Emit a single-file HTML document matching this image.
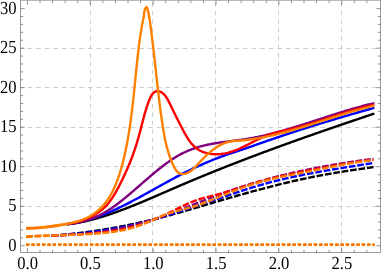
<!DOCTYPE html>
<html><head><meta charset="utf-8"><title>plot</title>
<style>
html,body{margin:0;padding:0;background:#fff;}
body{width:382px;height:274px;overflow:hidden;position:relative;font-family:"Liberation Serif",serif;}
svg text{font-family:"Liberation Serif",serif;fill:#000;text-rendering:geometricPrecision;}
</style></head><body>
<svg width="382" height="274" viewBox="0 0 382 274" style="position:absolute;left:0;top:0;will-change:transform">
<rect x="0" y="0" width="382" height="274" fill="#ffffff"/>
<path d="M90.50,0.5 V252.5 M152.50,0.5 V252.5 M215.50,0.5 V252.5 M278.50,0.5 V252.5 M341.50,0.5 V252.5" stroke="#b8b8b8" stroke-width="0.7" stroke-dasharray="4.4 4.05" stroke-dashoffset="6.5" fill="none"/>
<path d="M20.5,206.50 H380.5 M20.5,166.50 H380.5 M20.5,127.50 H380.5 M20.5,87.50 H380.5 M20.5,48.50 H380.5" stroke="#b8b8b8" stroke-width="0.7" stroke-dasharray="4.5 4.114" stroke-dashoffset="1.5" fill="none"/>
<path d="M66.92,224.40 L67.89,224.27 L68.86,224.15 L69.83,224.03 L70.80,223.90 L71.77,223.78 L72.74,223.64 L73.71,223.51 L74.68,223.37 L75.65,223.22 L76.62,223.07 L77.59,222.91 L78.56,222.74 L79.53,222.56 L80.50,222.36 L81.47,222.16 L82.44,221.95 L83.41,221.74 L84.38,221.52 L85.35,221.30 L86.32,221.07 L87.29,220.84 L88.26,220.61 L89.23,220.37 L90.20,220.12 L91.17,219.87 L92.14,219.62 L93.11,219.36 L94.07,219.10 L95.04,218.83 L96.01,218.56 L96.98,218.28 L97.95,218.01 L98.92,217.72 L99.89,217.43 L100.86,217.14 L101.83,216.85 L102.80,216.55 L103.77,216.25 L104.74,215.94 L105.71,215.63 L106.68,215.32 L107.65,215.00 L108.62,214.68 L109.59,214.36 L110.56,214.03 L111.53,213.70 L112.50,213.37 L113.47,213.03 L114.44,212.69 L115.41,212.35 L116.38,212.00 L117.35,211.65 L118.32,211.30 L119.29,210.95 L120.25,210.59 L121.22,210.23 L122.19,209.87 L123.16,209.50 L124.13,209.13 L125.10,208.76 L126.07,208.39 L127.04,208.02 L128.01,207.64 L128.98,207.26 L129.95,206.88 L130.92,206.49 L131.89,206.11 L132.86,205.72 L133.83,205.33 L134.80,204.94 L135.77,204.55 L136.74,204.15 L137.71,203.75 L138.68,203.35 L139.65,202.95 L140.62,202.55 L141.59,202.15 L142.56,201.74 L143.53,201.34 L144.50,200.93 L145.47,200.52 L146.44,200.11 L147.40,199.70 L148.37,199.29 L149.34,198.88 L150.31,198.46 L151.28,198.05 L152.25,197.63 L153.22,197.21 L154.19,196.80 L155.16,196.38 L156.13,195.96 L157.10,195.54 L158.07,195.12 L159.04,194.70 L160.01,194.28 L160.98,193.86 L161.95,193.44 L162.92,193.02 L163.89,192.59 L164.86,192.17 L165.83,191.75 L166.80,191.33 L167.77,190.91 L168.74,190.49 L169.71,190.06 L170.68,189.64 L171.65,189.22 L172.62,188.80 L173.58,188.38 L174.55,187.96 L175.52,187.54 L176.49,187.12 L177.46,186.71 L178.43,186.29 L179.40,185.87 L180.37,185.46 L181.34,185.04 L182.31,184.63 L183.28,184.21 L184.25,183.80 L185.22,183.39 L186.19,182.98 L187.16,182.57 L188.13,182.16 L189.10,181.75 L190.07,181.34 L191.04,180.93 L192.01,180.52 L192.98,180.12 L193.95,179.71 L194.92,179.31 L195.89,178.91 L196.86,178.50 L197.83,178.10 L198.80,177.70 L199.77,177.30 L200.73,176.90 L201.70,176.50 L202.67,176.10 L203.64,175.70 L204.61,175.30 L205.58,174.90 L206.55,174.51 L207.52,174.11 L208.49,173.72 L209.46,173.32 L210.43,172.93 L211.40,172.54 L212.37,172.15 L213.34,171.75 L214.31,171.36 L215.28,170.97 L216.25,170.58 L217.22,170.20 L218.19,169.81 L219.16,169.42 L220.13,169.03 L221.10,168.65 L222.07,168.26 L223.04,167.88 L224.01,167.49 L224.98,167.11 L225.95,166.72 L226.92,166.34 L227.88,165.96 L228.85,165.58 L229.82,165.20 L230.79,164.82 L231.76,164.44 L232.73,164.06 L233.70,163.68 L234.67,163.30 L235.64,162.93 L236.61,162.55 L237.58,162.18 L238.55,161.80 L239.52,161.43 L240.49,161.05 L241.46,160.68 L242.43,160.30 L243.40,159.93 L244.37,159.56 L245.34,159.19 L246.31,158.82 L247.28,158.45 L248.25,158.08 L249.22,157.71 L250.19,157.34 L251.16,156.97 L252.13,156.61 L253.10,156.24 L254.06,155.87 L255.03,155.51 L256.00,155.14 L256.97,154.78 L257.94,154.41 L258.91,154.05 L259.88,153.69 L260.85,153.32 L261.82,152.96 L262.79,152.60 L263.76,152.24 L264.73,151.88 L265.70,151.52 L266.67,151.16 L267.64,150.80 L268.61,150.44 L269.58,150.08 L270.55,149.72 L271.52,149.37 L272.49,149.01 L273.46,148.65 L274.43,148.30 L275.40,147.94 L276.37,147.59 L277.34,147.23 L278.31,146.88 L279.28,146.53 L280.25,146.17 L281.21,145.82 L282.18,145.47 L283.15,145.12 L284.12,144.77 L285.09,144.41 L286.06,144.06 L287.03,143.71 L288.00,143.36 L288.97,143.02 L289.94,142.67 L290.91,142.32 L291.88,141.97 L292.85,141.62 L293.82,141.28 L294.79,140.93 L295.76,140.58 L296.73,140.24 L297.70,139.89 L298.67,139.55 L299.64,139.20 L300.61,138.86 L301.58,138.51 L302.55,138.17 L303.52,137.83 L304.49,137.48 L305.46,137.14 L306.43,136.80 L307.39,136.46 L308.36,136.12 L309.33,135.78 L310.30,135.44 L311.27,135.10 L312.24,134.76 L313.21,134.42 L314.18,134.08 L315.15,133.74 L316.12,133.40 L317.09,133.06 L318.06,132.72 L319.03,132.39 L320.00,132.05 L320.97,131.71 L321.94,131.37 L322.91,131.04 L323.88,130.70 L324.85,130.37 L325.82,130.03 L326.79,129.70 L327.76,129.36 L328.73,129.03 L329.70,128.69 L330.67,128.36 L331.64,128.03 L332.61,127.69 L333.58,127.36 L334.54,127.03 L335.51,126.69 L336.48,126.36 L337.45,126.03 L338.42,125.70 L339.39,125.37 L340.36,125.04 L341.33,124.70 L342.30,124.37 L343.27,124.04 L344.24,123.71 L345.21,123.38 L346.18,123.05 L347.15,122.72 L348.12,122.40 L349.09,122.07 L350.06,121.74 L351.03,121.41 L352.00,121.08 L352.97,120.75 L353.94,120.42 L354.91,120.10 L355.88,119.77 L356.85,119.44 L357.82,119.12 L358.79,118.79 L359.76,118.46 L360.73,118.14 L361.69,117.81 L362.66,117.48 L363.63,117.16 L364.60,116.83 L365.57,116.51 L366.54,116.18 L367.51,115.86 L368.48,115.53 L369.45,115.21 L370.42,114.88 L371.39,114.56 L372.36,114.23 L373.33,113.91 L374.30,113.58" stroke="#000000" stroke-width="2.4" fill="none" stroke-linejoin="round"/>
<path d="M66.92,224.20 L67.89,224.05 L68.86,223.91 L69.83,223.76 L70.80,223.62 L71.77,223.46 L72.74,223.31 L73.71,223.15 L74.68,222.98 L75.65,222.81 L76.62,222.64 L77.59,222.45 L78.56,222.26 L79.53,222.05 L80.50,221.83 L81.47,221.61 L82.44,221.38 L83.41,221.14 L84.38,220.90 L85.35,220.64 L86.32,220.38 L87.29,220.12 L88.26,219.84 L89.23,219.56 L90.20,219.27 L91.17,218.98 L92.14,218.67 L93.11,218.36 L94.07,218.04 L95.04,217.72 L96.01,217.39 L96.98,217.05 L97.95,216.70 L98.92,216.35 L99.89,215.99 L100.86,215.63 L101.83,215.26 L102.80,214.88 L103.77,214.50 L104.74,214.11 L105.71,213.72 L106.68,213.32 L107.65,212.91 L108.62,212.50 L109.59,212.09 L110.56,211.66 L111.53,211.24 L112.50,210.81 L113.47,210.37 L114.44,209.93 L115.41,209.49 L116.38,209.04 L117.35,208.58 L118.32,208.12 L119.29,207.66 L120.25,207.19 L121.22,206.72 L122.19,206.25 L123.16,205.77 L124.13,205.29 L125.10,204.80 L126.07,204.31 L127.04,203.82 L128.01,203.32 L128.98,202.83 L129.95,202.32 L130.92,201.82 L131.89,201.31 L132.86,200.80 L133.83,200.29 L134.80,199.78 L135.77,199.26 L136.74,198.74 L137.71,198.22 L138.68,197.69 L139.65,197.17 L140.62,196.64 L141.59,196.11 L142.56,195.58 L143.53,195.05 L144.50,194.52 L145.47,193.99 L146.44,193.45 L147.40,192.91 L148.37,192.38 L149.34,191.84 L150.31,191.30 L151.28,190.76 L152.25,190.22 L153.22,189.68 L154.19,189.14 L155.16,188.60 L156.13,188.06 L157.10,187.52 L158.07,186.98 L159.04,186.44 L160.01,185.91 L160.98,185.37 L161.95,184.83 L162.92,184.29 L163.89,183.76 L164.86,183.22 L165.83,182.69 L166.80,182.15 L167.77,181.62 L168.74,181.09 L169.71,180.57 L170.68,180.04 L171.65,179.51 L172.62,178.99 L173.58,178.47 L174.55,177.95 L175.52,177.43 L176.49,176.92 L177.46,176.41 L178.43,175.90 L179.40,175.39 L180.37,174.89 L181.34,174.39 L182.31,173.89 L183.28,173.39 L184.25,172.90 L185.22,172.41 L186.19,171.93 L187.16,171.45 L188.13,170.97 L189.10,170.49 L190.07,170.02 L191.04,169.55 L192.01,169.09 L192.98,168.63 L193.95,168.17 L194.92,167.71 L195.89,167.26 L196.86,166.81 L197.83,166.37 L198.80,165.93 L199.77,165.49 L200.73,165.05 L201.70,164.62 L202.67,164.19 L203.64,163.77 L204.61,163.35 L205.58,162.93 L206.55,162.52 L207.52,162.11 L208.49,161.70 L209.46,161.29 L210.43,160.89 L211.40,160.50 L212.37,160.10 L213.34,159.71 L214.31,159.33 L215.28,158.95 L216.25,158.57 L217.22,158.19 L218.19,157.82 L219.16,157.45 L220.13,157.09 L221.10,156.73 L222.07,156.37 L223.04,156.02 L224.01,155.67 L224.98,155.32 L225.95,154.98 L226.92,154.65 L227.88,154.31 L228.85,153.98 L229.82,153.66 L230.79,153.33 L231.76,153.01 L232.73,152.69 L233.70,152.37 L234.67,152.06 L235.64,151.74 L236.61,151.43 L237.58,151.11 L238.55,150.80 L239.52,150.48 L240.49,150.16 L241.46,149.85 L242.43,149.53 L243.40,149.21 L244.37,148.89 L245.34,148.56 L246.31,148.23 L247.28,147.90 L248.25,147.57 L249.22,147.23 L250.19,146.90 L251.16,146.56 L252.13,146.21 L253.10,145.87 L254.06,145.53 L255.03,145.18 L256.00,144.84 L256.97,144.49 L257.94,144.15 L258.91,143.80 L259.88,143.46 L260.85,143.12 L261.82,142.78 L262.79,142.44 L263.76,142.10 L264.73,141.76 L265.70,141.42 L266.67,141.08 L267.64,140.74 L268.61,140.41 L269.58,140.07 L270.55,139.74 L271.52,139.40 L272.49,139.07 L273.46,138.74 L274.43,138.41 L275.40,138.08 L276.37,137.75 L277.34,137.42 L278.31,137.09 L279.28,136.77 L280.25,136.44 L281.21,136.11 L282.18,135.79 L283.15,135.46 L284.12,135.14 L285.09,134.82 L286.06,134.50 L287.03,134.18 L288.00,133.86 L288.97,133.54 L289.94,133.22 L290.91,132.90 L291.88,132.58 L292.85,132.26 L293.82,131.95 L294.79,131.63 L295.76,131.32 L296.73,131.00 L297.70,130.69 L298.67,130.38 L299.64,130.07 L300.61,129.76 L301.58,129.45 L302.55,129.14 L303.52,128.83 L304.49,128.52 L305.46,128.21 L306.43,127.90 L307.39,127.60 L308.36,127.29 L309.33,126.99 L310.30,126.68 L311.27,126.38 L312.24,126.08 L313.21,125.77 L314.18,125.47 L315.15,125.17 L316.12,124.87 L317.09,124.57 L318.06,124.27 L319.03,123.97 L320.00,123.68 L320.97,123.38 L321.94,123.08 L322.91,122.79 L323.88,122.49 L324.85,122.20 L325.82,121.90 L326.79,121.61 L327.76,121.31 L328.73,121.02 L329.70,120.73 L330.67,120.44 L331.64,120.15 L332.61,119.86 L333.58,119.57 L334.54,119.28 L335.51,118.99 L336.48,118.70 L337.45,118.42 L338.42,118.13 L339.39,117.84 L340.36,117.56 L341.33,117.27 L342.30,116.99 L343.27,116.70 L344.24,116.42 L345.21,116.14 L346.18,115.85 L347.15,115.57 L348.12,115.29 L349.09,115.01 L350.06,114.73 L351.03,114.45 L352.00,114.17 L352.97,113.89 L353.94,113.61 L354.91,113.33 L355.88,113.06 L356.85,112.78 L357.82,112.50 L358.79,112.23 L359.76,111.95 L360.73,111.68 L361.69,111.40 L362.66,111.13 L363.63,110.85 L364.60,110.58 L365.57,110.31 L366.54,110.03 L367.51,109.76 L368.48,109.49 L369.45,109.22 L370.42,108.95 L371.39,108.68 L372.36,108.41 L373.33,108.14 L374.30,107.87" stroke="#0000ff" stroke-width="2.4" fill="none" stroke-linejoin="round"/>
<path d="M66.92,224.19 L67.89,224.06 L68.86,223.93 L69.83,223.80 L70.80,223.67 L71.77,223.53 L72.74,223.39 L73.71,223.24 L74.68,223.09 L75.65,222.93 L76.62,222.76 L77.59,222.58 L78.56,222.39 L79.53,222.18 L80.50,221.96 L81.47,221.73 L82.44,221.49 L83.41,221.24 L84.38,220.98 L85.35,220.70 L86.32,220.42 L87.29,220.12 L88.26,219.82 L89.23,219.50 L90.20,219.17 L91.17,218.82 L92.14,218.46 L93.11,218.09 L94.07,217.70 L95.04,217.30 L96.01,216.89 L96.98,216.46 L97.95,216.01 L98.92,215.55 L99.89,215.07 L100.86,214.58 L101.83,214.07 L102.80,213.54 L103.77,213.00 L104.74,212.44 L105.71,211.87 L106.68,211.28 L107.65,210.68 L108.62,210.07 L109.59,209.44 L110.56,208.80 L111.53,208.14 L112.50,207.48 L113.47,206.80 L114.44,206.11 L115.41,205.41 L116.38,204.70 L117.35,203.98 L118.32,203.24 L119.29,202.50 L120.25,201.76 L121.22,201.00 L122.19,200.23 L123.16,199.46 L124.13,198.68 L125.10,197.89 L126.07,197.09 L127.04,196.29 L128.01,195.49 L128.98,194.67 L129.95,193.86 L130.92,193.04 L131.89,192.21 L132.86,191.38 L133.83,190.55 L134.80,189.71 L135.77,188.87 L136.74,188.03 L137.71,187.19 L138.68,186.35 L139.65,185.50 L140.62,184.66 L141.59,183.81 L142.56,182.96 L143.53,182.12 L144.50,181.28 L145.47,180.43 L146.44,179.59 L147.40,178.75 L148.37,177.92 L149.34,177.09 L150.31,176.26 L151.28,175.43 L152.25,174.61 L153.22,173.79 L154.19,172.98 L155.16,172.18 L156.13,171.37 L157.10,170.58 L158.07,169.79 L159.04,169.01 L160.01,168.24 L160.98,167.47 L161.95,166.72 L162.92,165.97 L163.89,165.23 L164.86,164.50 L165.83,163.78 L166.80,163.07 L167.77,162.37 L168.74,161.68 L169.71,161.00 L170.68,160.33 L171.65,159.68 L172.62,159.04 L173.58,158.41 L174.55,157.80 L175.52,157.20 L176.49,156.61 L177.46,156.04 L178.43,155.48 L179.40,154.94 L180.37,154.41 L181.34,153.90 L182.31,153.41 L183.28,152.92 L184.25,152.46 L185.22,152.00 L186.19,151.56 L187.16,151.13 L188.13,150.72 L189.10,150.32 L190.07,149.93 L191.04,149.56 L192.01,149.19 L192.98,148.84 L193.95,148.50 L194.92,148.17 L195.89,147.85 L196.86,147.54 L197.83,147.24 L198.80,146.95 L199.77,146.67 L200.73,146.40 L201.70,146.14 L202.67,145.89 L203.64,145.65 L204.61,145.41 L205.58,145.18 L206.55,144.97 L207.52,144.75 L208.49,144.55 L209.46,144.35 L210.43,144.16 L211.40,143.97 L212.37,143.79 L213.34,143.62 L214.31,143.45 L215.28,143.29 L216.25,143.13 L217.22,142.97 L218.19,142.82 L219.16,142.68 L220.13,142.53 L221.10,142.40 L222.07,142.26 L223.04,142.13 L224.01,142.00 L224.98,141.87 L225.95,141.74 L226.92,141.62 L227.88,141.49 L228.85,141.37 L229.82,141.25 L230.79,141.13 L231.76,141.01 L232.73,140.88 L233.70,140.76 L234.67,140.64 L235.64,140.52 L236.61,140.39 L237.58,140.27 L238.55,140.14 L239.52,140.01 L240.49,139.88 L241.46,139.75 L242.43,139.61 L243.40,139.47 L244.37,139.32 L245.34,139.18 L246.31,139.02 L247.28,138.87 L248.25,138.71 L249.22,138.54 L250.19,138.37 L251.16,138.20 L252.13,138.02 L253.10,137.84 L254.06,137.66 L255.03,137.47 L256.00,137.28 L256.97,137.08 L257.94,136.88 L258.91,136.68 L259.88,136.47 L260.85,136.26 L261.82,136.05 L262.79,135.83 L263.76,135.61 L264.73,135.38 L265.70,135.15 L266.67,134.92 L267.64,134.69 L268.61,134.45 L269.58,134.21 L270.55,133.97 L271.52,133.72 L272.49,133.48 L273.46,133.22 L274.43,132.97 L275.40,132.71 L276.37,132.45 L277.34,132.19 L278.31,131.93 L279.28,131.66 L280.25,131.39 L281.21,131.12 L282.18,130.85 L283.15,130.57 L284.12,130.29 L285.09,130.01 L286.06,129.73 L287.03,129.45 L288.00,129.16 L288.97,128.87 L289.94,128.58 L290.91,128.29 L291.88,128.00 L292.85,127.70 L293.82,127.41 L294.79,127.11 L295.76,126.81 L296.73,126.51 L297.70,126.21 L298.67,125.91 L299.64,125.60 L300.61,125.30 L301.58,124.99 L302.55,124.68 L303.52,124.37 L304.49,124.06 L305.46,123.75 L306.43,123.44 L307.39,123.13 L308.36,122.82 L309.33,122.50 L310.30,122.19 L311.27,121.88 L312.24,121.56 L313.21,121.25 L314.18,120.93 L315.15,120.62 L316.12,120.30 L317.09,119.98 L318.06,119.67 L319.03,119.35 L320.00,119.04 L320.97,118.72 L321.94,118.40 L322.91,118.09 L323.88,117.77 L324.85,117.46 L325.82,117.14 L326.79,116.83 L327.76,116.51 L328.73,116.20 L329.70,115.89 L330.67,115.57 L331.64,115.26 L332.61,114.95 L333.58,114.64 L334.54,114.33 L335.51,114.03 L336.48,113.72 L337.45,113.41 L338.42,113.11 L339.39,112.80 L340.36,112.50 L341.33,112.20 L342.30,111.90 L343.27,111.60 L344.24,111.30 L345.21,111.01 L346.18,110.72 L347.15,110.42 L348.12,110.13 L349.09,109.84 L350.06,109.56 L351.03,109.27 L352.00,108.99 L352.97,108.71 L353.94,108.43 L354.91,108.15 L355.88,107.88 L356.85,107.60 L357.82,107.33 L358.79,107.07 L359.76,106.80 L360.73,106.54 L361.69,106.28 L362.66,106.02 L363.63,105.76 L364.60,105.51 L365.57,105.26 L366.54,105.01 L367.51,104.77 L368.48,104.53 L369.45,104.29 L370.42,104.05 L371.39,103.82 L372.36,103.59 L373.33,103.37 L374.30,103.14" stroke="#800080" stroke-width="2.4" fill="none" stroke-linejoin="round"/>
<path d="M66.69,224.04 L68.00,223.82 L69.30,223.60 L70.59,223.37 L71.89,223.13 L73.18,222.88 L74.46,222.61 L75.74,222.32 L77.02,222.02 L78.29,221.69 L79.56,221.33 L80.81,220.95 L82.06,220.54 L83.31,220.11 L84.54,219.66 L85.76,219.18 L86.98,218.68 L88.18,218.15 L89.37,217.60 L90.55,217.03 L91.72,216.44 L92.87,215.82 L94.01,215.18 L95.13,214.51 L96.24,213.82 L97.33,213.10 L98.40,212.37 L99.46,211.60 L100.49,210.82 L101.51,210.01 L102.50,209.17 L103.48,208.31 L104.43,207.43 L105.36,206.52 L106.27,205.59 L107.15,204.63 L108.01,203.65 L108.85,202.65 L109.66,201.62 L110.45,200.57 L111.22,199.51 L111.98,198.43 L112.71,197.33 L113.43,196.22 L114.13,195.09 L114.81,193.95 L115.48,192.80 L116.14,191.64 L116.78,190.48 L117.41,189.30 L118.03,188.12 L118.65,186.94 L119.25,185.76 L119.85,184.57 L120.44,183.38 L121.02,182.20 L121.60,181.02 L122.18,179.84 L122.75,178.66 L123.31,177.48 L123.87,176.30 L124.43,175.12 L124.98,173.94 L125.52,172.76 L126.06,171.58 L126.59,170.39 L127.12,169.21 L127.64,168.02 L128.15,166.83 L128.66,165.63 L129.16,164.43 L129.66,163.23 L130.15,162.02 L130.64,160.81 L131.11,159.59 L131.59,158.37 L132.05,157.14 L132.51,155.90 L132.97,154.66 L133.41,153.41 L133.86,152.15 L134.29,150.90 L134.72,149.63 L135.14,148.36 L135.55,147.09 L135.96,145.82 L136.36,144.55 L136.75,143.28 L137.14,142.00 L137.52,140.73 L137.89,139.46 L138.26,138.19 L138.62,136.92 L138.97,135.66 L139.31,134.40 L139.65,133.14 L139.98,131.89 L140.31,130.64 L140.63,129.40 L140.95,128.15 L141.27,126.91 L141.59,125.67 L141.90,124.43 L142.22,123.18 L142.54,121.94 L142.86,120.70 L143.19,119.45 L143.52,118.20 L143.86,116.94 L144.20,115.68 L144.56,114.42 L144.92,113.15 L145.29,111.87 L145.68,110.59 L146.07,109.30 L146.48,108.00 L146.91,106.69 L147.35,105.37 L147.80,104.05 L148.27,102.71 L148.77,101.36 L149.28,100.01 L149.82,98.69 L150.40,97.41 L151.02,96.19 L151.69,95.06 L152.42,94.03 L153.21,93.13 L154.06,92.38 L154.99,91.79 L156.00,91.39 L157.07,91.18 L158.18,91.19 L159.31,91.39 L160.44,91.78 L161.54,92.34 L162.60,93.06 L163.60,93.91 L164.52,94.88 L165.38,95.94 L166.18,97.07 L166.92,98.25 L167.62,99.46 L168.29,100.67 L168.93,101.88 L169.55,103.08 L170.14,104.28 L170.73,105.48 L171.30,106.67 L171.87,107.86 L172.44,109.04 L173.01,110.22 L173.58,111.40 L174.15,112.57 L174.72,113.74 L175.30,114.91 L175.87,116.08 L176.44,117.25 L177.02,118.41 L177.60,119.57 L178.18,120.73 L178.77,121.90 L179.36,123.06 L179.95,124.22 L180.55,125.38 L181.15,126.55 L181.76,127.71 L182.37,128.88 L182.99,130.05 L183.62,131.22 L184.26,132.39 L184.90,133.55 L185.56,134.71 L186.23,135.86 L186.92,137.00 L187.63,138.13 L188.35,139.23 L189.10,140.32 L189.86,141.38 L190.66,142.42 L191.47,143.42 L192.32,144.40 L193.20,145.34 L194.11,146.25 L195.05,147.11 L196.02,147.93 L197.04,148.70 L198.09,149.43 L199.18,150.10 L200.32,150.72 L201.49,151.29 L202.70,151.80 L203.94,152.26 L205.21,152.67 L206.50,153.03 L207.81,153.34 L209.14,153.61 L210.49,153.82 L211.84,153.99 L213.19,154.12 L214.55,154.20 L215.90,154.24 L217.25,154.23 L218.59,154.19 L219.91,154.10 L221.23,153.98 L222.53,153.81 L223.82,153.62 L225.10,153.39 L226.36,153.12 L227.62,152.83 L228.87,152.51 L230.11,152.15 L231.35,151.77 L232.57,151.37 L233.79,150.94 L235.00,150.49 L236.21,150.02 L237.40,149.53 L238.60,149.02 L239.79,148.50 L240.97,147.96 L242.15,147.41 L243.33,146.84 L244.50,146.27 L245.67,145.68 L246.84,145.09 L248.01,144.50 L249.18,143.89 L250.35,143.29 L251.51,142.69 L252.68,142.08 L253.85,141.48 L255.03,140.88 L256.20,140.29 L257.38,139.71 L258.56,139.14 L259.75,138.57 L260.94,138.02 L262.13,137.49 L263.34,136.97 L264.55,136.47 L265.76,135.98 L266.99,135.52 L268.22,135.08 L269.46,134.65 L270.70,134.24 L271.95,133.84 L273.20,133.46 L274.46,133.09 L275.73,132.74 L276.99,132.39 L278.27,132.05 L279.54,131.72 L280.82,131.40 L282.10,131.09 L283.38,130.78 L284.66,130.48 L285.95,130.17 L287.23,129.87 L288.52,129.57 L289.80,129.27 L291.09,128.97 L292.37,128.67 L293.66,128.36 L294.94,128.05 L296.22,127.73 L297.50,127.41 L298.77,127.08 L300.04,126.74 L301.32,126.40 L302.58,126.05 L303.85,125.69 L305.12,125.33 L306.38,124.97 L307.64,124.60 L308.90,124.23 L310.16,123.85 L311.42,123.47 L312.67,123.08 L313.93,122.69 L315.18,122.30 L316.43,121.90 L317.68,121.51 L318.93,121.10 L320.18,120.70 L321.43,120.30 L322.68,119.89 L323.92,119.48 L325.17,119.07 L326.42,118.66 L327.66,118.25 L328.91,117.84 L330.16,117.43 L331.40,117.01 L332.65,116.60 L333.89,116.19 L335.14,115.78 L336.39,115.37 L337.63,114.96 L338.88,114.55 L340.13,114.15 L341.37,113.74 L342.62,113.34 L343.87,112.94 L345.12,112.55 L346.37,112.15 L347.63,111.76 L348.88,111.38 L350.14,110.99 L351.39,110.61 L352.65,110.24 L353.91,109.87 L355.17,109.50 L356.43,109.14 L357.69,108.79 L358.96,108.44 L360.23,108.09 L361.50,107.75 L362.77,107.42 L364.04,107.09 L365.32,106.77 L366.60,106.46 L367.88,106.16 L369.16,105.86 L370.45,105.57 L371.74,105.28 L373.03,105.01 L374.32,104.74" stroke="#ff0000" stroke-width="2.4" fill="none" stroke-linejoin="round"/>
<path d="M26.17,228.32 L28.07,228.29 L29.96,228.24 L31.84,228.17 L33.71,228.08 L35.57,227.97 L37.44,227.85 L39.29,227.71 L41.15,227.55 L42.99,227.37 L44.84,227.18 L46.69,226.98 L48.53,226.76 L50.37,226.53 L52.22,226.28 L54.06,226.02 L55.91,225.75 L57.76,225.47 L59.61,225.18 L61.47,224.88 L63.33,224.56 L65.18,224.22 L67.04,223.87 L68.89,223.50 L70.73,223.10 L72.57,222.67 L74.39,222.21 L76.20,221.72 L78.00,221.19 L79.77,220.63 L81.53,220.02 L83.27,219.37 L84.98,218.67 L86.67,217.91 L88.33,217.11 L89.96,216.25 L91.56,215.33 L93.12,214.34 L94.64,213.29 L96.13,212.18 L97.58,211.00 L98.99,209.77 L100.36,208.48 L101.68,207.14 L102.96,205.76 L104.20,204.33 L105.39,202.86 L106.54,201.35 L107.64,199.81 L108.69,198.25 L109.69,196.66 L110.65,195.05 L111.55,193.42 L112.42,191.77 L113.24,190.10 L114.02,188.42 L114.77,186.72 L115.49,185.01 L116.19,183.29 L116.86,181.56 L117.51,179.81 L118.14,178.06 L118.74,176.30 L119.33,174.53 L119.90,172.75 L120.45,170.96 L120.98,169.17 L121.49,167.37 L121.99,165.57 L122.48,163.76 L122.95,161.95 L123.40,160.13 L123.84,158.31 L124.27,156.49 L124.69,154.67 L125.10,152.84 L125.49,151.01 L125.88,149.18 L126.26,147.35 L126.62,145.52 L126.98,143.69 L127.32,141.85 L127.66,140.01 L127.99,138.17 L128.30,136.33 L128.62,134.49 L128.92,132.65 L129.21,130.81 L129.50,128.96 L129.78,127.12 L130.05,125.27 L130.32,123.42 L130.58,121.57 L130.83,119.72 L131.08,117.87 L131.32,116.02 L131.55,114.17 L131.78,112.31 L132.01,110.46 L132.23,108.60 L132.45,106.75 L132.66,104.89 L132.87,103.04 L133.08,101.18 L133.28,99.32 L133.48,97.46 L133.68,95.60 L133.87,93.74 L134.06,91.89 L134.25,90.03 L134.44,88.17 L134.63,86.31 L134.82,84.45 L135.00,82.59 L135.19,80.72 L135.38,78.86 L135.56,77.00 L135.75,75.14 L135.93,73.28 L136.12,71.42 L136.31,69.56 L136.50,67.70 L136.69,65.85 L136.89,63.99 L137.08,62.13 L137.28,60.27 L137.48,58.41 L137.69,56.56 L137.90,54.70 L138.11,52.84 L138.33,50.99 L138.55,49.13 L138.77,47.28 L139.00,45.43 L139.24,43.57 L139.48,41.72 L139.73,39.87 L139.99,38.02 L140.25,36.18 L140.53,34.33 L140.82,32.49 L141.11,30.64 L141.42,28.80 L141.75,26.96 L142.08,25.13 L142.43,23.29 L142.80,21.46 L143.17,19.63 L143.53,17.80 L143.86,15.95 L144.11,14.10 L144.30,12.23 L144.58,10.35 L145.27,8.45 L146.39,7.06 L147.18,7.93 L147.71,9.83 L148.18,11.72 L148.58,13.60 L148.94,15.46 L149.26,17.30 L149.55,19.14 L149.82,20.98 L150.08,22.82 L150.34,24.65 L150.60,26.49 L150.85,28.34 L151.09,30.18 L151.34,32.02 L151.57,33.87 L151.81,35.72 L152.04,37.57 L152.27,39.42 L152.50,41.27 L152.72,43.12 L152.94,44.98 L153.16,46.83 L153.38,48.69 L153.59,50.54 L153.81,52.40 L154.02,54.26 L154.23,56.12 L154.44,57.98 L154.64,59.84 L154.85,61.70 L155.06,63.56 L155.26,65.42 L155.47,67.29 L155.67,69.15 L155.87,71.01 L156.08,72.87 L156.28,74.74 L156.49,76.60 L156.69,78.46 L156.90,80.32 L157.11,82.18 L157.32,84.04 L157.52,85.90 L157.74,87.77 L157.95,89.62 L158.16,91.48 L158.38,93.34 L158.60,95.20 L158.82,97.06 L159.04,98.91 L159.27,100.77 L159.50,102.62 L159.73,104.47 L159.96,106.32 L160.20,108.17 L160.44,110.02 L160.69,111.87 L160.94,113.72 L161.19,115.56 L161.45,117.40 L161.71,119.24 L161.98,121.08 L162.25,122.92 L162.52,124.75 L162.81,126.59 L163.09,128.42 L163.39,130.25 L163.70,132.08 L164.02,133.90 L164.36,135.73 L164.71,137.55 L165.08,139.37 L165.46,141.19 L165.87,143.01 L166.30,144.83 L166.76,146.64 L167.24,148.45 L167.75,150.27 L168.28,152.08 L168.85,153.89 L169.45,155.70 L170.09,157.51 L170.76,159.31 L171.47,161.12 L172.21,162.92 L173.00,164.73 L173.84,166.51 L174.74,168.22 L175.73,169.80 L176.82,171.21 L178.04,172.40 L179.39,173.30 L180.89,173.88 L182.58,174.08 L184.42,173.88 L186.33,173.35 L188.22,172.55 L189.99,171.56 L191.57,170.44 L193.02,169.22 L194.36,167.93 L195.63,166.59 L196.89,165.23 L198.15,163.86 L199.41,162.50 L200.68,161.14 L201.97,159.78 L203.26,158.44 L204.58,157.12 L205.91,155.82 L207.27,154.53 L208.65,153.28 L210.06,152.06 L211.50,150.87 L212.97,149.72 L214.48,148.62 L216.03,147.56 L217.62,146.55 L219.25,145.60 L220.91,144.71 L222.61,143.90 L224.34,143.17 L226.10,142.54 L227.88,142.00 L229.68,141.57 L231.51,141.26 L233.34,141.03 L235.19,140.88 L237.04,140.76 L238.90,140.65 L240.77,140.52 L242.63,140.37 L244.49,140.19 L246.36,139.98 L248.22,139.75 L250.08,139.50 L251.93,139.24 L253.78,138.95 L255.63,138.66 L257.48,138.34 L259.32,138.02 L261.16,137.68 L262.99,137.33 L264.83,136.97 L266.65,136.59 L268.48,136.20 L270.30,135.80 L272.12,135.39 L273.94,134.97 L275.75,134.54 L277.57,134.10 L279.38,133.64 L281.18,133.18 L282.99,132.71 L284.79,132.23 L286.59,131.75 L288.39,131.25 L290.19,130.75 L291.98,130.24 L293.78,129.73 L295.57,129.21 L297.36,128.68 L299.15,128.14 L300.94,127.61 L302.72,127.06 L304.51,126.51 L306.29,125.96 L308.08,125.40 L309.86,124.85 L311.64,124.28 L313.42,123.72 L315.21,123.15 L316.99,122.58 L318.77,122.01 L320.55,121.44 L322.32,120.86 L324.10,120.29 L325.88,119.72 L327.66,119.14 L329.44,118.57 L331.22,118.00 L333.00,117.43 L334.78,116.86 L336.57,116.29 L338.35,115.73 L340.13,115.17 L341.91,114.61 L343.70,114.05 L345.48,113.50 L347.27,112.96 L349.06,112.42 L350.85,111.88 L352.64,111.35 L354.43,110.82 L356.23,110.30 L358.02,109.79 L359.82,109.29 L361.62,108.79 L363.42,108.30 L365.22,107.81 L367.03,107.34 L368.84,106.87 L370.65,106.42 L372.46,105.97 L374.27,105.53" stroke="#ff8000" stroke-width="2.4" fill="none" stroke-linejoin="round"/>
<path d="M50.39,235.55 L51.35,235.51 L52.32,235.47 L53.29,235.43 L54.25,235.39 L55.22,235.34 L56.19,235.29 L57.16,235.24 L58.12,235.18 L59.09,235.11 L60.06,235.04 L61.03,234.97 L61.99,234.89 L62.96,234.81 L63.93,234.72 L64.90,234.62 L65.86,234.53 L66.83,234.43 L67.80,234.32 L68.77,234.21 L69.73,234.10 L70.70,233.99 L71.67,233.88 L72.64,233.76 L73.60,233.65 L74.57,233.54 L75.54,233.43 L76.51,233.32 L77.47,233.21 L78.44,233.10 L79.41,232.99 L80.37,232.87 L81.34,232.75 L82.31,232.63 L83.28,232.51 L84.24,232.39 L85.21,232.27 L86.18,232.14 L87.15,232.01 L88.11,231.88 L89.08,231.75 L90.05,231.62 L91.02,231.48 L91.98,231.35 L92.95,231.21 L93.92,231.07 L94.89,230.93 L95.85,230.78 L96.82,230.64 L97.79,230.49 L98.76,230.35 L99.72,230.20 L100.69,230.04 L101.66,229.89 L102.63,229.74 L103.59,229.58 L104.56,229.42 L105.53,229.26 L106.49,229.10 L107.46,228.94 L108.43,228.77 L109.40,228.61 L110.36,228.44 L111.33,228.27 L112.30,228.10 L113.27,227.92 L114.23,227.75 L115.20,227.57 L116.17,227.40 L117.14,227.22 L118.10,227.04 L119.07,226.85 L120.04,226.67 L121.01,226.48 L121.97,226.30 L122.94,226.11 L123.91,225.92 L124.88,225.73 L125.84,225.53 L126.81,225.34 L127.78,225.14 L128.75,224.94 L129.71,224.74 L130.68,224.54 L131.65,224.34 L132.62,224.13 L133.58,223.93 L134.55,223.72 L135.52,223.51 L136.48,223.30 L137.45,223.09 L138.42,222.88 L139.39,222.66 L140.35,222.44 L141.32,222.23 L142.29,222.01 L143.26,221.79 L144.22,221.56 L145.19,221.34 L146.16,221.11 L147.13,220.89 L148.09,220.66 L149.06,220.43 L150.03,220.20 L151.00,219.96 L151.96,219.73 L152.93,219.49 L153.90,219.25 L154.87,219.02 L155.83,218.77 L156.80,218.53 L157.77,218.29 L158.74,218.04 L159.70,217.80 L160.67,217.55 L161.64,217.30 L162.60,217.05 L163.57,216.80 L164.54,216.55 L165.51,216.29 L166.47,216.03 L167.44,215.78 L168.41,215.52 L169.38,215.26 L170.34,215.00 L171.31,214.73 L172.28,214.47 L173.25,214.21 L174.21,213.94 L175.18,213.67 L176.15,213.41 L177.12,213.14 L178.08,212.87 L179.05,212.60 L180.02,212.32 L180.99,212.05 L181.95,211.78 L182.92,211.50 L183.89,211.23 L184.86,210.95 L185.82,210.67 L186.79,210.40 L187.76,210.12 L188.72,209.84 L189.69,209.56 L190.66,209.28 L191.63,209.00 L192.59,208.72 L193.56,208.44 L194.53,208.15 L195.50,207.87 L196.46,207.59 L197.43,207.31 L198.40,207.02 L199.37,206.74 L200.33,206.45 L201.30,206.17 L202.27,205.88 L203.24,205.60 L204.20,205.31 L205.17,205.03 L206.14,204.74 L207.11,204.46 L208.07,204.17 L209.04,203.89 L210.01,203.60 L210.98,203.31 L211.94,203.03 L212.91,202.74 L213.88,202.46 L214.84,202.17 L215.81,201.89 L216.78,201.61 L217.75,201.32 L218.71,201.04 L219.68,200.76 L220.65,200.47 L221.62,200.19 L222.58,199.91 L223.55,199.63 L224.52,199.34 L225.49,199.06 L226.45,198.78 L227.42,198.50 L228.39,198.22 L229.36,197.94 L230.32,197.67 L231.29,197.39 L232.26,197.11 L233.23,196.83 L234.19,196.56 L235.16,196.28 L236.13,196.00 L237.10,195.73 L238.06,195.46 L239.03,195.18 L240.00,194.91 L240.96,194.64 L241.93,194.36 L242.90,194.09 L243.87,193.82 L244.83,193.55 L245.80,193.28 L246.77,193.01 L247.74,192.75 L248.70,192.48 L249.67,192.21 L250.64,191.95 L251.61,191.68 L252.57,191.42 L253.54,191.15 L254.51,190.89 L255.48,190.63 L256.44,190.37 L257.41,190.11 L258.38,189.85 L259.35,189.59 L260.31,189.33 L261.28,189.07 L262.25,188.82 L263.22,188.56 L264.18,188.31 L265.15,188.05 L266.12,187.80 L267.08,187.55 L268.05,187.30 L269.02,187.05 L269.99,186.80 L270.95,186.55 L271.92,186.31 L272.89,186.06 L273.86,185.81 L274.82,185.57 L275.79,185.33 L276.76,185.09 L277.73,184.85 L278.69,184.61 L279.66,184.37 L280.63,184.13 L281.60,183.89 L282.56,183.66 L283.53,183.43 L284.50,183.19 L285.47,182.96 L286.43,182.73 L287.40,182.50 L288.37,182.27 L289.34,182.05 L290.30,181.82 L291.27,181.60 L292.24,181.37 L293.21,181.15 L294.17,180.93 L295.14,180.71 L296.11,180.49 L297.07,180.28 L298.04,180.06 L299.01,179.85 L299.98,179.63 L300.94,179.42 L301.91,179.21 L302.88,179.00 L303.85,178.79 L304.81,178.59 L305.78,178.38 L306.75,178.18 L307.72,177.98 L308.68,177.78 L309.65,177.58 L310.62,177.38 L311.59,177.19 L312.55,176.99 L313.52,176.80 L314.49,176.61 L315.46,176.42 L316.42,176.23 L317.39,176.04 L318.36,175.86 L319.33,175.67 L320.29,175.49 L321.26,175.31 L322.23,175.13 L323.19,174.95 L324.16,174.77 L325.13,174.59 L326.10,174.42 L327.06,174.24 L328.03,174.07 L329.00,173.90 L329.97,173.73 L330.93,173.56 L331.90,173.39 L332.87,173.22 L333.84,173.06 L334.80,172.89 L335.77,172.73 L336.74,172.57 L337.71,172.41 L338.67,172.25 L339.64,172.09 L340.61,171.93 L341.58,171.77 L342.54,171.62 L343.51,171.46 L344.48,171.31 L345.45,171.16 L346.41,171.01 L347.38,170.86 L348.35,170.71 L349.31,170.56 L350.28,170.41 L351.25,170.26 L352.22,170.12 L353.18,169.97 L354.15,169.83 L355.12,169.69 L356.09,169.54 L357.05,169.40 L358.02,169.26 L358.99,169.12 L359.96,168.98 L360.92,168.85 L361.89,168.71 L362.86,168.57 L363.83,168.44 L364.79,168.30 L365.76,168.17 L366.73,168.04 L367.70,167.90 L368.66,167.77 L369.63,167.64 L370.60,167.51 L371.57,167.38 L372.53,167.25 L373.50,167.12" stroke="#000000" stroke-width="2.4" fill="none" stroke-dasharray="6.7 1.8" stroke-dashoffset="7.22"/>
<path d="M50.39,235.56 L51.35,235.53 L52.32,235.49 L53.29,235.46 L54.25,235.42 L55.22,235.38 L56.19,235.34 L57.16,235.29 L58.12,235.24 L59.09,235.19 L60.06,235.14 L61.03,235.08 L61.99,235.01 L62.96,234.95 L63.93,234.88 L64.90,234.80 L65.86,234.72 L66.83,234.64 L67.80,234.56 L68.77,234.47 L69.73,234.38 L70.70,234.29 L71.67,234.19 L72.64,234.10 L73.60,234.00 L74.57,233.91 L75.54,233.82 L76.51,233.73 L77.47,233.63 L78.44,233.53 L79.41,233.43 L80.37,233.33 L81.34,233.23 L82.31,233.13 L83.28,233.02 L84.24,232.91 L85.21,232.80 L86.18,232.69 L87.15,232.58 L88.11,232.46 L89.08,232.34 L90.05,232.22 L91.02,232.10 L91.98,231.98 L92.95,231.85 L93.92,231.73 L94.89,231.60 L95.85,231.47 L96.82,231.33 L97.79,231.20 L98.76,231.06 L99.72,230.92 L100.69,230.78 L101.66,230.64 L102.63,230.49 L103.59,230.34 L104.56,230.19 L105.53,230.04 L106.49,229.89 L107.46,229.73 L108.43,229.58 L109.40,229.41 L110.36,229.25 L111.33,229.09 L112.30,228.92 L113.27,228.75 L114.23,228.58 L115.20,228.41 L116.17,228.23 L117.14,228.05 L118.10,227.87 L119.07,227.69 L120.04,227.50 L121.01,227.32 L121.97,227.13 L122.94,226.94 L123.91,226.74 L124.88,226.55 L125.84,226.35 L126.81,226.14 L127.78,225.94 L128.75,225.73 L129.71,225.53 L130.68,225.32 L131.65,225.10 L132.62,224.89 L133.58,224.67 L134.55,224.45 L135.52,224.22 L136.48,224.00 L137.45,223.77 L138.42,223.54 L139.39,223.30 L140.35,223.07 L141.32,222.83 L142.29,222.59 L143.26,222.34 L144.22,222.10 L145.19,221.85 L146.16,221.60 L147.13,221.34 L148.09,221.08 L149.06,220.82 L150.03,220.56 L151.00,220.30 L151.96,220.03 L152.93,219.76 L153.90,219.49 L154.87,219.21 L155.83,218.93 L156.80,218.65 L157.77,218.37 L158.74,218.08 L159.70,217.79 L160.67,217.50 L161.64,217.21 L162.60,216.92 L163.57,216.62 L164.54,216.32 L165.51,216.02 L166.47,215.72 L167.44,215.42 L168.41,215.11 L169.38,214.80 L170.34,214.50 L171.31,214.19 L172.28,213.88 L173.25,213.56 L174.21,213.25 L175.18,212.94 L176.15,212.62 L177.12,212.31 L178.08,211.99 L179.05,211.67 L180.02,211.35 L180.99,211.03 L181.95,210.71 L182.92,210.39 L183.89,210.07 L184.86,209.75 L185.82,209.43 L186.79,209.11 L187.76,208.79 L188.72,208.47 L189.69,208.14 L190.66,207.82 L191.63,207.50 L192.59,207.18 L193.56,206.86 L194.53,206.54 L195.50,206.22 L196.46,205.90 L197.43,205.58 L198.40,205.26 L199.37,204.94 L200.33,204.62 L201.30,204.30 L202.27,203.98 L203.24,203.66 L204.20,203.34 L205.17,203.02 L206.14,202.70 L207.11,202.38 L208.07,202.06 L209.04,201.74 L210.01,201.42 L210.98,201.10 L211.94,200.78 L212.91,200.46 L213.88,200.14 L214.84,199.82 L215.81,199.50 L216.78,199.17 L217.75,198.85 L218.71,198.53 L219.68,198.20 L220.65,197.88 L221.62,197.55 L222.58,197.23 L223.55,196.90 L224.52,196.58 L225.49,196.25 L226.45,195.93 L227.42,195.60 L228.39,195.28 L229.36,194.95 L230.32,194.63 L231.29,194.30 L232.26,193.98 L233.23,193.66 L234.19,193.34 L235.16,193.01 L236.13,192.69 L237.10,192.37 L238.06,192.05 L239.03,191.74 L240.00,191.42 L240.96,191.10 L241.93,190.79 L242.90,190.47 L243.87,190.16 L244.83,189.85 L245.80,189.54 L246.77,189.23 L247.74,188.92 L248.70,188.62 L249.67,188.31 L250.64,188.01 L251.61,187.71 L252.57,187.42 L253.54,187.12 L254.51,186.82 L255.48,186.53 L256.44,186.24 L257.41,185.96 L258.38,185.67 L259.35,185.39 L260.31,185.11 L261.28,184.83 L262.25,184.55 L263.22,184.28 L264.18,184.01 L265.15,183.74 L266.12,183.48 L267.08,183.21 L268.05,182.95 L269.02,182.69 L269.99,182.44 L270.95,182.18 L271.92,181.93 L272.89,181.68 L273.86,181.43 L274.82,181.19 L275.79,180.94 L276.76,180.70 L277.73,180.46 L278.69,180.22 L279.66,179.99 L280.63,179.75 L281.60,179.52 L282.56,179.29 L283.53,179.07 L284.50,178.84 L285.47,178.62 L286.43,178.40 L287.40,178.18 L288.37,177.96 L289.34,177.74 L290.30,177.53 L291.27,177.31 L292.24,177.10 L293.21,176.89 L294.17,176.68 L295.14,176.48 L296.11,176.27 L297.07,176.07 L298.04,175.87 L299.01,175.67 L299.98,175.47 L300.94,175.27 L301.91,175.08 L302.88,174.89 L303.85,174.69 L304.81,174.50 L305.78,174.31 L306.75,174.12 L307.72,173.94 L308.68,173.75 L309.65,173.57 L310.62,173.38 L311.59,173.20 L312.55,173.02 L313.52,172.84 L314.49,172.66 L315.46,172.49 L316.42,172.31 L317.39,172.13 L318.36,171.96 L319.33,171.79 L320.29,171.62 L321.26,171.44 L322.23,171.27 L323.19,171.11 L324.16,170.94 L325.13,170.77 L326.10,170.60 L327.06,170.44 L328.03,170.27 L329.00,170.11 L329.97,169.95 L330.93,169.78 L331.90,169.62 L332.87,169.46 L333.84,169.30 L334.80,169.14 L335.77,168.98 L336.74,168.82 L337.71,168.66 L338.67,168.51 L339.64,168.35 L340.61,168.19 L341.58,168.03 L342.54,167.88 L343.51,167.72 L344.48,167.57 L345.45,167.41 L346.41,167.26 L347.38,167.11 L348.35,166.95 L349.31,166.80 L350.28,166.64 L351.25,166.49 L352.22,166.34 L353.18,166.19 L354.15,166.03 L355.12,165.88 L356.09,165.73 L357.05,165.57 L358.02,165.42 L358.99,165.27 L359.96,165.12 L360.92,164.96 L361.89,164.81 L362.86,164.66 L363.83,164.51 L364.79,164.35 L365.76,164.20 L366.73,164.05 L367.70,163.89 L368.66,163.74 L369.63,163.58 L370.60,163.43 L371.57,163.27 L372.53,163.12 L373.50,162.96" stroke="#0000ff" stroke-width="2.4" fill="none" stroke-dasharray="6.7 1.8" stroke-dashoffset="7.22"/>
<path d="M50.39,235.56 L51.35,235.54 L52.32,235.51 L53.29,235.49 L54.25,235.46 L55.22,235.43 L56.19,235.41 L57.16,235.38 L58.12,235.35 L59.09,235.32 L60.06,235.29 L61.03,235.26 L61.99,235.23 L62.96,235.19 L63.93,235.15 L64.90,235.11 L65.86,235.07 L66.83,235.03 L67.80,234.98 L68.77,234.93 L69.73,234.88 L70.70,234.82 L71.67,234.76 L72.64,234.70 L73.60,234.64 L74.57,234.58 L75.54,234.51 L76.51,234.44 L77.47,234.37 L78.44,234.30 L79.41,234.23 L80.37,234.15 L81.34,234.07 L82.31,233.99 L83.28,233.91 L84.24,233.82 L85.21,233.73 L86.18,233.64 L87.15,233.55 L88.11,233.45 L89.08,233.35 L90.05,233.25 L91.02,233.14 L91.98,233.04 L92.95,232.92 L93.92,232.81 L94.89,232.69 L95.85,232.57 L96.82,232.45 L97.79,232.32 L98.76,232.19 L99.72,232.05 L100.69,231.91 L101.66,231.77 L102.63,231.63 L103.59,231.48 L104.56,231.33 L105.53,231.17 L106.49,231.01 L107.46,230.85 L108.43,230.68 L109.40,230.52 L110.36,230.34 L111.33,230.17 L112.30,229.99 L113.27,229.80 L114.23,229.62 L115.20,229.43 L116.17,229.24 L117.14,229.04 L118.10,228.84 L119.07,228.64 L120.04,228.43 L121.01,228.22 L121.97,228.01 L122.94,227.79 L123.91,227.57 L124.88,227.35 L125.84,227.13 L126.81,226.90 L127.78,226.67 L128.75,226.43 L129.71,226.19 L130.68,225.95 L131.65,225.71 L132.62,225.46 L133.58,225.21 L134.55,224.95 L135.52,224.70 L136.48,224.44 L137.45,224.17 L138.42,223.91 L139.39,223.64 L140.35,223.36 L141.32,223.09 L142.29,222.81 L143.26,222.53 L144.22,222.24 L145.19,221.96 L146.16,221.67 L147.13,221.37 L148.09,221.08 L149.06,220.78 L150.03,220.48 L151.00,220.17 L151.96,219.86 L152.93,219.55 L153.90,219.24 L154.87,218.92 L155.83,218.60 L156.80,218.28 L157.77,217.96 L158.74,217.63 L159.70,217.30 L160.67,216.97 L161.64,216.63 L162.60,216.29 L163.57,215.95 L164.54,215.61 L165.51,215.26 L166.47,214.91 L167.44,214.56 L168.41,214.21 L169.38,213.85 L170.34,213.49 L171.31,213.13 L172.28,212.77 L173.25,212.41 L174.21,212.04 L175.18,211.67 L176.15,211.30 L177.12,210.93 L178.08,210.56 L179.05,210.19 L180.02,209.81 L180.99,209.43 L181.95,209.06 L182.92,208.68 L183.89,208.30 L184.86,207.92 L185.82,207.54 L186.79,207.16 L187.76,206.78 L188.72,206.39 L189.69,206.01 L190.66,205.63 L191.63,205.24 L192.59,204.86 L193.56,204.47 L194.53,204.09 L195.50,203.70 L196.46,203.32 L197.43,202.94 L198.40,202.55 L199.37,202.17 L200.33,201.79 L201.30,201.41 L202.27,201.02 L203.24,200.64 L204.20,200.26 L205.17,199.88 L206.14,199.51 L207.11,199.13 L208.07,198.75 L209.04,198.38 L210.01,198.01 L210.98,197.63 L211.94,197.26 L212.91,196.89 L213.88,196.53 L214.84,196.16 L215.81,195.80 L216.78,195.44 L217.75,195.08 L218.71,194.72 L219.68,194.36 L220.65,194.01 L221.62,193.66 L222.58,193.31 L223.55,192.96 L224.52,192.62 L225.49,192.27 L226.45,191.93 L227.42,191.59 L228.39,191.25 L229.36,190.92 L230.32,190.58 L231.29,190.25 L232.26,189.92 L233.23,189.59 L234.19,189.27 L235.16,188.94 L236.13,188.62 L237.10,188.30 L238.06,187.98 L239.03,187.67 L240.00,187.35 L240.96,187.04 L241.93,186.73 L242.90,186.42 L243.87,186.11 L244.83,185.81 L245.80,185.50 L246.77,185.20 L247.74,184.90 L248.70,184.61 L249.67,184.31 L250.64,184.02 L251.61,183.72 L252.57,183.43 L253.54,183.14 L254.51,182.86 L255.48,182.57 L256.44,182.29 L257.41,182.01 L258.38,181.73 L259.35,181.45 L260.31,181.17 L261.28,180.90 L262.25,180.62 L263.22,180.35 L264.18,180.08 L265.15,179.81 L266.12,179.55 L267.08,179.28 L268.05,179.02 L269.02,178.76 L269.99,178.50 L270.95,178.24 L271.92,177.99 L272.89,177.73 L273.86,177.48 L274.82,177.23 L275.79,176.98 L276.76,176.73 L277.73,176.48 L278.69,176.24 L279.66,176.00 L280.63,175.75 L281.60,175.51 L282.56,175.28 L283.53,175.04 L284.50,174.80 L285.47,174.57 L286.43,174.34 L287.40,174.11 L288.37,173.88 L289.34,173.65 L290.30,173.42 L291.27,173.20 L292.24,172.98 L293.21,172.75 L294.17,172.53 L295.14,172.32 L296.11,172.10 L297.07,171.88 L298.04,171.67 L299.01,171.46 L299.98,171.24 L300.94,171.03 L301.91,170.83 L302.88,170.62 L303.85,170.41 L304.81,170.21 L305.78,170.01 L306.75,169.80 L307.72,169.60 L308.68,169.41 L309.65,169.21 L310.62,169.01 L311.59,168.82 L312.55,168.62 L313.52,168.43 L314.49,168.24 L315.46,168.05 L316.42,167.87 L317.39,167.68 L318.36,167.49 L319.33,167.31 L320.29,167.13 L321.26,166.95 L322.23,166.77 L323.19,166.59 L324.16,166.41 L325.13,166.23 L326.10,166.06 L327.06,165.88 L328.03,165.71 L329.00,165.54 L329.97,165.37 L330.93,165.20 L331.90,165.03 L332.87,164.87 L333.84,164.70 L334.80,164.54 L335.77,164.38 L336.74,164.22 L337.71,164.05 L338.67,163.90 L339.64,163.74 L340.61,163.58 L341.58,163.42 L342.54,163.27 L343.51,163.12 L344.48,162.96 L345.45,162.81 L346.41,162.66 L347.38,162.51 L348.35,162.37 L349.31,162.22 L350.28,162.07 L351.25,161.93 L352.22,161.78 L353.18,161.64 L354.15,161.50 L355.12,161.36 L356.09,161.22 L357.05,161.08 L358.02,160.94 L358.99,160.81 L359.96,160.67 L360.92,160.54 L361.89,160.40 L362.86,160.27 L363.83,160.14 L364.79,160.01 L365.76,159.88 L366.73,159.75 L367.70,159.62 L368.66,159.50 L369.63,159.37 L370.60,159.25 L371.57,159.12 L372.53,159.00 L373.50,158.88" stroke="#800080" stroke-width="2.4" fill="none" stroke-dasharray="6.7 1.8" stroke-dashoffset="7.22"/>
<path d="M50.39,235.54 L51.35,235.50 L52.32,235.47 L53.29,235.44 L54.25,235.41 L55.22,235.37 L56.19,235.34 L57.16,235.31 L58.12,235.27 L59.09,235.24 L60.06,235.20 L61.03,235.17 L61.99,235.13 L62.96,235.09 L63.93,235.05 L64.90,235.01 L65.86,234.97 L66.83,234.92 L67.80,234.88 L68.77,234.83 L69.73,234.79 L70.70,234.74 L71.67,234.69 L72.64,234.64 L73.60,234.59 L74.57,234.54 L75.54,234.48 L76.51,234.43 L77.47,234.37 L78.44,234.32 L79.41,234.26 L80.37,234.20 L81.34,234.14 L82.31,234.08 L83.28,234.01 L84.24,233.95 L85.21,233.88 L86.18,233.81 L87.15,233.74 L88.11,233.66 L89.08,233.59 L90.05,233.51 L91.02,233.43 L91.98,233.34 L92.95,233.26 L93.92,233.17 L94.89,233.08 L95.85,232.99 L96.82,232.90 L97.79,232.80 L98.76,232.70 L99.72,232.59 L100.69,232.49 L101.66,232.38 L102.63,232.27 L103.59,232.16 L104.56,232.04 L105.53,231.92 L106.49,231.79 L107.46,231.67 L108.43,231.53 L109.40,231.40 L110.36,231.26 L111.33,231.12 L112.30,230.97 L113.27,230.82 L114.23,230.67 L115.20,230.51 L116.17,230.35 L117.14,230.18 L118.10,230.01 L119.07,229.83 L120.04,229.65 L121.01,229.46 L121.97,229.27 L122.94,229.08 L123.91,228.88 L124.88,228.67 L125.84,228.46 L126.81,228.24 L127.78,228.02 L128.75,227.79 L129.71,227.56 L130.68,227.32 L131.65,227.07 L132.62,226.82 L133.58,226.56 L134.55,226.30 L135.52,226.03 L136.48,225.75 L137.45,225.47 L138.42,225.18 L139.39,224.88 L140.35,224.58 L141.32,224.27 L142.29,223.95 L143.26,223.63 L144.22,223.30 L145.19,222.97 L146.16,222.62 L147.13,222.27 L148.09,221.92 L149.06,221.56 L150.03,221.19 L151.00,220.81 L151.96,220.43 L152.93,220.05 L153.90,219.66 L154.87,219.26 L155.83,218.86 L156.80,218.45 L157.77,218.03 L158.74,217.61 L159.70,217.19 L160.67,216.76 L161.64,216.32 L162.60,215.88 L163.57,215.43 L164.54,214.98 L165.51,214.53 L166.47,214.07 L167.44,213.61 L168.41,213.14 L169.38,212.67 L170.34,212.20 L171.31,211.73 L172.28,211.25 L173.25,210.77 L174.21,210.29 L175.18,209.81 L176.15,209.33 L177.12,208.85 L178.08,208.37 L179.05,207.89 L180.02,207.41 L180.99,206.93 L181.95,206.45 L182.92,205.98 L183.89,205.51 L184.86,205.04 L185.82,204.59 L186.79,204.13 L187.76,203.69 L188.72,203.25 L189.69,202.83 L190.66,202.41 L191.63,202.01 L192.59,201.62 L193.56,201.25 L194.53,200.88 L195.50,200.54 L196.46,200.20 L197.43,199.87 L198.40,199.56 L199.37,199.26 L200.33,198.96 L201.30,198.67 L202.27,198.40 L203.24,198.13 L204.20,197.86 L205.17,197.60 L206.14,197.35 L207.11,197.10 L208.07,196.85 L209.04,196.61 L210.01,196.36 L210.98,196.12 L211.94,195.88 L212.91,195.64 L213.88,195.40 L214.84,195.16 L215.81,194.91 L216.78,194.66 L217.75,194.41 L218.71,194.15 L219.68,193.89 L220.65,193.63 L221.62,193.36 L222.58,193.08 L223.55,192.81 L224.52,192.53 L225.49,192.24 L226.45,191.96 L227.42,191.67 L228.39,191.38 L229.36,191.08 L230.32,190.79 L231.29,190.49 L232.26,190.19 L233.23,189.89 L234.19,189.58 L235.16,189.28 L236.13,188.97 L237.10,188.67 L238.06,188.36 L239.03,188.05 L240.00,187.74 L240.96,187.43 L241.93,187.12 L242.90,186.81 L243.87,186.50 L244.83,186.19 L245.80,185.89 L246.77,185.58 L247.74,185.27 L248.70,184.97 L249.67,184.66 L250.64,184.36 L251.61,184.06 L252.57,183.76 L253.54,183.46 L254.51,183.17 L255.48,182.87 L256.44,182.58 L257.41,182.30 L258.38,182.01 L259.35,181.73 L260.31,181.45 L261.28,181.17 L262.25,180.90 L263.22,180.63 L264.18,180.37 L265.15,180.10 L266.12,179.84 L267.08,179.59 L268.05,179.33 L269.02,179.08 L269.99,178.83 L270.95,178.59 L271.92,178.34 L272.89,178.10 L273.86,177.87 L274.82,177.63 L275.79,177.40 L276.76,177.17 L277.73,176.94 L278.69,176.71 L279.66,176.49 L280.63,176.26 L281.60,176.04 L282.56,175.82 L283.53,175.61 L284.50,175.39 L285.47,175.18 L286.43,174.97 L287.40,174.76 L288.37,174.55 L289.34,174.34 L290.30,174.14 L291.27,173.94 L292.24,173.73 L293.21,173.53 L294.17,173.33 L295.14,173.13 L296.11,172.93 L297.07,172.74 L298.04,172.54 L299.01,172.35 L299.98,172.15 L300.94,171.96 L301.91,171.77 L302.88,171.57 L303.85,171.38 L304.81,171.19 L305.78,171.00 L306.75,170.81 L307.72,170.62 L308.68,170.43 L309.65,170.24 L310.62,170.05 L311.59,169.86 L312.55,169.67 L313.52,169.49 L314.49,169.30 L315.46,169.11 L316.42,168.92 L317.39,168.73 L318.36,168.55 L319.33,168.36 L320.29,168.17 L321.26,167.99 L322.23,167.80 L323.19,167.62 L324.16,167.43 L325.13,167.25 L326.10,167.07 L327.06,166.89 L328.03,166.70 L329.00,166.52 L329.97,166.34 L330.93,166.17 L331.90,165.99 L332.87,165.81 L333.84,165.64 L334.80,165.46 L335.77,165.29 L336.74,165.12 L337.71,164.94 L338.67,164.77 L339.64,164.61 L340.61,164.44 L341.58,164.27 L342.54,164.11 L343.51,163.94 L344.48,163.78 L345.45,163.62 L346.41,163.46 L347.38,163.31 L348.35,163.15 L349.31,163.00 L350.28,162.84 L351.25,162.69 L352.22,162.54 L353.18,162.40 L354.15,162.25 L355.12,162.11 L356.09,161.97 L357.05,161.83 L358.02,161.69 L358.99,161.55 L359.96,161.42 L360.92,161.29 L361.89,161.16 L362.86,161.03 L363.83,160.91 L364.79,160.79 L365.76,160.67 L366.73,160.55 L367.70,160.43 L368.66,160.32 L369.63,160.21 L370.60,160.10 L371.57,160.00 L372.53,159.89 L373.50,159.79" stroke="#ff0000" stroke-width="2.4" fill="none" stroke-dasharray="6.7 1.8" stroke-dashoffset="7.22"/>
<path d="M26.20,236.75 L27.17,236.69 L28.13,236.62 L29.10,236.55 L30.07,236.49 L31.04,236.43 L32.00,236.37 L32.97,236.31 L33.94,236.26 L34.91,236.20 L35.87,236.15 L36.84,236.10 L37.81,236.05 L38.78,236.00 L39.74,235.96 L40.71,235.91 L41.68,235.87 L42.65,235.83 L43.61,235.78 L44.58,235.74 L45.55,235.71 L46.52,235.67 L47.48,235.63 L48.45,235.60 L49.42,235.56 L50.39,235.53 L51.35,235.49 L52.32,235.46 L53.29,235.43 L54.25,235.39 L55.22,235.36 L56.19,235.33 L57.16,235.30 L58.12,235.27 L59.09,235.24 L60.06,235.21 L61.03,235.18 L61.99,235.15 L62.96,235.12 L63.93,235.09 L64.90,235.06 L65.86,235.03 L66.83,235.00 L67.80,234.96 L68.77,234.93 L69.73,234.90 L70.70,234.87 L71.67,234.83 L72.64,234.80 L73.60,234.76 L74.57,234.73 L75.54,234.69 L76.51,234.65 L77.47,234.61 L78.44,234.57 L79.41,234.53 L80.37,234.49 L81.34,234.45 L82.31,234.40 L83.28,234.36 L84.24,234.31 L85.21,234.26 L86.18,234.21 L87.15,234.16 L88.11,234.11 L89.08,234.05 L90.05,233.99 L91.02,233.93 L91.98,233.87 L92.95,233.81 L93.92,233.74 L94.89,233.68 L95.85,233.61 L96.82,233.54 L97.79,233.46 L98.76,233.39 L99.72,233.31 L100.69,233.23 L101.66,233.14 L102.63,233.06 L103.59,232.97 L104.56,232.87 L105.53,232.78 L106.49,232.68 L107.46,232.57 L108.43,232.46 L109.40,232.35 L110.36,232.23 L111.33,232.11 L112.30,231.98 L113.27,231.85 L114.23,231.71 L115.20,231.57 L116.17,231.42 L117.14,231.27 L118.10,231.10 L119.07,230.94 L120.04,230.76 L121.01,230.58 L121.97,230.39 L122.94,230.20 L123.91,229.99 L124.88,229.78 L125.84,229.56 L126.81,229.33 L127.78,229.10 L128.75,228.85 L129.71,228.60 L130.68,228.34 L131.65,228.07 L132.62,227.79 L133.58,227.50 L134.55,227.20 L135.52,226.89 L136.48,226.56 L137.45,226.23 L138.42,225.89 L139.39,225.54 L140.35,225.17 L141.32,224.80 L142.29,224.41 L143.26,224.02 L144.22,223.62 L145.19,223.21 L146.16,222.79 L147.13,222.37 L148.09,221.94 L149.06,221.51 L150.03,221.08 L151.00,220.65 L151.96,220.21 L152.93,219.78 L153.90,219.34 L154.87,218.91 L155.83,218.48 L156.80,218.05 L157.77,217.63 L158.74,217.21 L159.70,216.80 L160.67,216.40 L161.64,216.00 L162.60,215.62 L163.57,215.24 L164.54,214.87 L165.51,214.52 L166.47,214.17 L167.44,213.83 L168.41,213.50 L169.38,213.17 L170.34,212.86 L171.31,212.55 L172.28,212.25 L173.25,211.96 L174.21,211.68 L175.18,211.40 L176.15,211.13 L177.12,210.86 L178.08,210.60 L179.05,210.35 L180.02,210.10 L180.99,209.85 L181.95,209.61 L182.92,209.38 L183.89,209.14 L184.86,208.91 L185.82,208.67 L186.79,208.43 L187.76,208.19 L188.72,207.95 L189.69,207.70 L190.66,207.45 L191.63,207.18 L192.59,206.91 L193.56,206.63 L194.53,206.34 L195.50,206.04 L196.46,205.73 L197.43,205.41 L198.40,205.09 L199.37,204.75 L200.33,204.41 L201.30,204.06 L202.27,203.71 L203.24,203.35 L204.20,202.98 L205.17,202.61 L206.14,202.23 L207.11,201.85 L208.07,201.47 L209.04,201.08 L210.01,200.69 L210.98,200.30 L211.94,199.90 L212.91,199.51 L213.88,199.11 L214.84,198.71 L215.81,198.31 L216.78,197.91 L217.75,197.52 L218.71,197.12 L219.68,196.72 L220.65,196.33 L221.62,195.94 L222.58,195.54 L223.55,195.15 L224.52,194.76 L225.49,194.38 L226.45,193.99 L227.42,193.60 L228.39,193.22 L229.36,192.84 L230.32,192.46 L231.29,192.08 L232.26,191.71 L233.23,191.33 L234.19,190.96 L235.16,190.60 L236.13,190.23 L237.10,189.87 L238.06,189.50 L239.03,189.15 L240.00,188.79 L240.96,188.44 L241.93,188.09 L242.90,187.74 L243.87,187.39 L244.83,187.05 L245.80,186.72 L246.77,186.38 L247.74,186.05 L248.70,185.72 L249.67,185.40 L250.64,185.08 L251.61,184.76 L252.57,184.45 L253.54,184.14 L254.51,183.83 L255.48,183.53 L256.44,183.23 L257.41,182.94 L258.38,182.65 L259.35,182.37 L260.31,182.09 L261.28,181.81 L262.25,181.54 L263.22,181.27 L264.18,181.01 L265.15,180.75 L266.12,180.49 L267.08,180.24 L268.05,180.00 L269.02,179.75 L269.99,179.51 L270.95,179.27 L271.92,179.04 L272.89,178.81 L273.86,178.58 L274.82,178.36 L275.79,178.14 L276.76,177.92 L277.73,177.70 L278.69,177.49 L279.66,177.27 L280.63,177.07 L281.60,176.86 L282.56,176.65 L283.53,176.45 L284.50,176.25 L285.47,176.05 L286.43,175.85 L287.40,175.66 L288.37,175.46 L289.34,175.27 L290.30,175.08 L291.27,174.89 L292.24,174.70 L293.21,174.51 L294.17,174.32 L295.14,174.13 L296.11,173.95 L297.07,173.76 L298.04,173.58 L299.01,173.39 L299.98,173.21 L300.94,173.02 L301.91,172.84 L302.88,172.65 L303.85,172.46 L304.81,172.28 L305.78,172.09 L306.75,171.91 L307.72,171.72 L308.68,171.53 L309.65,171.34 L310.62,171.15 L311.59,170.96 L312.55,170.77 L313.52,170.58 L314.49,170.38 L315.46,170.19 L316.42,169.99 L317.39,169.80 L318.36,169.60 L319.33,169.41 L320.29,169.21 L321.26,169.01 L322.23,168.81 L323.19,168.62 L324.16,168.42 L325.13,168.22 L326.10,168.03 L327.06,167.83 L328.03,167.63 L329.00,167.44 L329.97,167.24 L330.93,167.05 L331.90,166.85 L332.87,166.66 L333.84,166.47 L334.80,166.28 L335.77,166.08 L336.74,165.89 L337.71,165.71 L338.67,165.52 L339.64,165.33 L340.61,165.15 L341.58,164.96 L342.54,164.78 L343.51,164.60 L344.48,164.42 L345.45,164.24 L346.41,164.07 L347.38,163.89 L348.35,163.72 L349.31,163.55 L350.28,163.38 L351.25,163.22 L352.22,163.06 L353.18,162.90 L354.15,162.74 L355.12,162.58 L356.09,162.43 L357.05,162.28 L358.02,162.13 L358.99,161.98 L359.96,161.84 L360.92,161.70 L361.89,161.57 L362.86,161.43 L363.83,161.30 L364.79,161.18 L365.76,161.05 L366.73,160.93 L367.70,160.82 L368.66,160.70 L369.63,160.59 L370.60,160.49 L371.57,160.39 L372.53,160.29 L373.50,160.19" stroke="#ff8000" stroke-width="2.4" fill="none" stroke-dasharray="6.7 1.8" stroke-dashoffset="0.00"/>
<path d="M26.17,228.32 L28.07,228.29 L29.96,228.24 L31.84,228.17 L33.71,228.08 L35.57,227.97 L37.44,227.85 L39.29,227.71 L41.15,227.55 L42.99,227.37 L44.84,227.18 L46.69,226.98 L48.53,226.76 L50.37,226.53 L52.22,226.28 L54.06,226.02 L55.91,225.75 L57.76,225.47 L59.61,225.18 L61.47,224.88 L63.33,224.56 L65.18,224.22" stroke="#ff8000" stroke-width="2.9" fill="none"/>
<path d="M26.17,228.32 L28.07,228.29 L29.96,228.24 L31.84,228.17 L33.71,228.08 L35.57,227.97 L37.44,227.85 L39.29,227.71" stroke="#f26c00" stroke-width="1.2" fill="none"/>
<path d="M26.20,236.75 L27.17,236.69 L28.13,236.62 L29.10,236.55 L30.07,236.49 L31.04,236.43 L32.00,236.37 L32.97,236.31 L33.94,236.26 L34.91,236.20 L35.87,236.15 L36.84,236.10 L37.81,236.05 L38.78,236.00 L39.74,235.96 L40.71,235.91 L41.68,235.87 L42.65,235.83 L43.61,235.78 L44.58,235.74 L45.55,235.71 L46.52,235.67 L47.48,235.63 L48.45,235.60 L49.42,235.56" stroke="#ff8000" stroke-width="2.9" fill="none" stroke-dasharray="6.7 1.8"/>
<path d="M26.20,236.75 L27.17,236.69 L28.13,236.62 L29.10,236.55 L30.07,236.49 L31.04,236.43 L32.00,236.37 L32.97,236.31 L33.94,236.26 L34.91,236.20 L35.87,236.15 L36.84,236.10 L37.81,236.05 L38.78,236.00" stroke="#f26c00" stroke-width="1.2" fill="none" stroke-dasharray="6.7 1.8"/>
<path d="M25.95,244.7 H374.7" stroke="#ff8000" stroke-width="2.7" fill="none" stroke-dasharray="3.45 1.88"/>
<path d="M25.95,244.7 H374.7" stroke="#f26c00" stroke-width="1.2" fill="none" stroke-dasharray="3.45 1.88"/>
<path d="M20.5,0 V252.5 H380.5 V0" fill="none" stroke="#585858" stroke-width="0.6"/>
<path d="M20.2,0.2 H380.8" fill="none" stroke="#585858" stroke-width="0.6"/>
<path d="M27.45,252.5 v-4.3 M27.45,0.5 v4.3 M40.02,252.5 v-2.6 M40.02,0.5 v2.6 M52.59,252.5 v-2.6 M52.59,0.5 v2.6 M65.16,252.5 v-2.6 M65.16,0.5 v2.6 M77.73,252.5 v-2.6 M77.73,0.5 v2.6 M90.30,252.5 v-4.3 M90.30,0.5 v4.3 M102.87,252.5 v-2.6 M102.87,0.5 v2.6 M115.44,252.5 v-2.6 M115.44,0.5 v2.6 M128.01,252.5 v-2.6 M128.01,0.5 v2.6 M140.58,252.5 v-2.6 M140.58,0.5 v2.6 M153.15,252.5 v-4.3 M153.15,0.5 v4.3 M165.72,252.5 v-2.6 M165.72,0.5 v2.6 M178.29,252.5 v-2.6 M178.29,0.5 v2.6 M190.86,252.5 v-2.6 M190.86,0.5 v2.6 M203.43,252.5 v-2.6 M203.43,0.5 v2.6 M216.00,252.5 v-4.3 M216.00,0.5 v4.3 M228.57,252.5 v-2.6 M228.57,0.5 v2.6 M241.14,252.5 v-2.6 M241.14,0.5 v2.6 M253.71,252.5 v-2.6 M253.71,0.5 v2.6 M266.28,252.5 v-2.6 M266.28,0.5 v2.6 M278.85,252.5 v-4.3 M278.85,0.5 v4.3 M291.42,252.5 v-2.6 M291.42,0.5 v2.6 M303.99,252.5 v-2.6 M303.99,0.5 v2.6 M316.56,252.5 v-2.6 M316.56,0.5 v2.6 M329.13,252.5 v-2.6 M329.13,0.5 v2.6 M341.70,252.5 v-4.3 M341.70,0.5 v4.3 M354.27,252.5 v-2.6 M354.27,0.5 v2.6 M366.84,252.5 v-2.6 M366.84,0.5 v2.6 M20.5,245.80 h4.2 M380.5,245.80 h-4.2 M20.5,237.89 h2.6 M380.5,237.89 h-2.6 M20.5,229.99 h2.6 M380.5,229.99 h-2.6 M20.5,222.08 h2.6 M380.5,222.08 h-2.6 M20.5,214.18 h2.6 M380.5,214.18 h-2.6 M20.5,206.27 h4.2 M380.5,206.27 h-4.2 M20.5,198.36 h2.6 M380.5,198.36 h-2.6 M20.5,190.46 h2.6 M380.5,190.46 h-2.6 M20.5,182.55 h2.6 M380.5,182.55 h-2.6 M20.5,174.65 h2.6 M380.5,174.65 h-2.6 M20.5,166.74 h4.2 M380.5,166.74 h-4.2 M20.5,158.83 h2.6 M380.5,158.83 h-2.6 M20.5,150.93 h2.6 M380.5,150.93 h-2.6 M20.5,143.02 h2.6 M380.5,143.02 h-2.6 M20.5,135.12 h2.6 M380.5,135.12 h-2.6 M20.5,127.21 h4.2 M380.5,127.21 h-4.2 M20.5,119.30 h2.6 M380.5,119.30 h-2.6 M20.5,111.40 h2.6 M380.5,111.40 h-2.6 M20.5,103.49 h2.6 M380.5,103.49 h-2.6 M20.5,95.59 h2.6 M380.5,95.59 h-2.6 M20.5,87.68 h4.2 M380.5,87.68 h-4.2 M20.5,79.77 h2.6 M380.5,79.77 h-2.6 M20.5,71.87 h2.6 M380.5,71.87 h-2.6 M20.5,63.96 h2.6 M380.5,63.96 h-2.6 M20.5,56.06 h2.6 M380.5,56.06 h-2.6 M20.5,48.15 h4.2 M380.5,48.15 h-4.2 M20.5,40.24 h2.6 M380.5,40.24 h-2.6 M20.5,32.34 h2.6 M380.5,32.34 h-2.6 M20.5,24.43 h2.6 M380.5,24.43 h-2.6 M20.5,16.53 h2.6 M380.5,16.53 h-2.6 M20.5,8.62 h4.2 M380.5,8.62 h-4.2" stroke="#585858" stroke-width="0.65" fill="none"/>
<text transform="translate(27.60,268.6) scale(1,1.105)" text-anchor="middle" font-size="16.6">0.0</text>
<text transform="translate(90.45,268.6) scale(1,1.105)" text-anchor="middle" font-size="16.6">0.5</text>
<text transform="translate(153.30,268.6) scale(1,1.105)" text-anchor="middle" font-size="16.6">1.0</text>
<text transform="translate(216.15,268.6) scale(1,1.105)" text-anchor="middle" font-size="16.6">1.5</text>
<text transform="translate(279.00,268.6) scale(1,1.105)" text-anchor="middle" font-size="16.6">2.0</text>
<text transform="translate(341.85,268.6) scale(1,1.105)" text-anchor="middle" font-size="16.6">2.5</text>
<text transform="translate(16.5,251.00) scale(1,1.105)" text-anchor="end" font-size="16.6">0</text>
<text transform="translate(16.5,211.47) scale(1,1.105)" text-anchor="end" font-size="16.6">5</text>
<text transform="translate(16.5,171.94) scale(1,1.105)" text-anchor="end" font-size="16.6">10</text>
<text transform="translate(16.5,132.41) scale(1,1.105)" text-anchor="end" font-size="16.6">15</text>
<text transform="translate(16.5,92.88) scale(1,1.105)" text-anchor="end" font-size="16.6">20</text>
<text transform="translate(16.5,53.35) scale(1,1.105)" text-anchor="end" font-size="16.6">25</text>
<text transform="translate(16.5,13.82) scale(1,1.105)" text-anchor="end" font-size="16.6">30</text>
</svg>
</body></html>
